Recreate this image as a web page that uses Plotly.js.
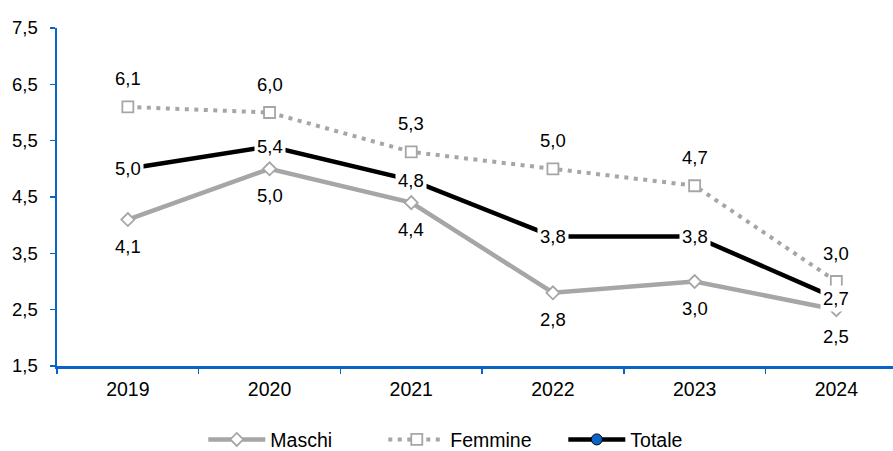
<!DOCTYPE html>
<html><head><meta charset="utf-8">
<script src="https://cdn.plot.ly/plotly-3.0.1.min.js"></script>
<style>body{margin:0;background:#fff}#c{width:893px;height:451px}</style>
</head><body><div id="c"></div>
<script>
const years = ['2019','2020','2021','2022','2023','2024'];
const maschi = [4.1, 5.0, 4.4, 2.8, 3.0, 2.5];
const femmine = [6.1, 6.0, 5.3, 5.0, 4.7, 3.0];
const totale = [5.0, 5.4, 4.8, 3.8, 3.8, 2.7];
const yTicks = [1.5, 2.5, 3.5, 4.5, 5.5, 6.5, 7.5];

const fmt = v => v.toFixed(1).replace('.', ',');
const FAM = 'Liberation Sans, Arial, sans-serif';
const F = (s) => ({family: FAM, size: s || 15, color: '#000000'});

const traces = [
  {x: years, y: maschi, name: 'Maschi', type: 'scatter', mode: 'lines+markers',
   line: {color: '#A6A6A6', width: 4.5},
   marker: {symbol: 'diamond', size: 10, color: '#ffffff', line: {color: '#A6A6A6', width: 1.8}}},
  {x: years, y: femmine, name: 'Femmine', type: 'scatter', mode: 'lines+markers',
   line: {color: '#A6A6A6', width: 4, dash: '4px,5.5px'},
   marker: {symbol: 'square', size: 11, color: '#ffffff', line: {color: '#A6A6A6', width: 1.8}}},
  {x: years, y: totale, name: 'Totale', type: 'scatter', mode: 'lines+markers',
   line: {color: '#000000', width: 4.5},
   marker: {symbol: 'circle', size: 11, color: '#0A64C8', line: {color: '#000000', width: 1}}}
];

const ann = [];
for (let i = 0; i < years.length; i++) {
  ann.push({xref: 'x', yref: 'y', x: i, y: maschi[i], text: fmt(maschi[i]), showarrow: false, yshift: -27, font: F(18.5)});
  ann.push({xref: 'x', yref: 'y', x: i, y: femmine[i], text: fmt(femmine[i]), showarrow: false, yshift: 28, font: F(18.5)});
  ann.push({xref: 'x', yref: 'y', x: i, y: totale[i], text: fmt(totale[i]), showarrow: false, font: F(18.5),
            bgcolor: '#ffffff', borderpad: 2});
}

const layout = {
  width: 893, height: 451,
  margin: {l: 57, r: 0, t: 28, b: 85, autoexpand: false},
  paper_bgcolor: '#ffffff', plot_bgcolor: '#ffffff',
  font: F(18.5),
  showlegend: true,
  legend: {orientation: 'h', xref: 'container', x: 0.53, xanchor: 'center', yref: 'container', y: 0.025, yanchor: 'middle',
           font: F(19.5), itemwidth: 57, entrywidth: 108},
  xaxis: {type: 'category', range: [-0.5, 5.4], showgrid: false, zeroline: false,
          showline: true, linecolor: '#0A64C8', linewidth: 2.5,
          ticks: 'outside', tickson: 'boundaries', ticklen: 5, tickcolor: '#0A64C8', tickwidth: 1.5,
          ticklabelstandoff: 4, tickfont: F(19.5)},
  yaxis: {range: [1.5, 7.5], tickmode: 'array', tickvals: yTicks, ticktext: yTicks.map(fmt),
          showgrid: false, zeroline: false,
          showline: true, linecolor: '#0A64C8', linewidth: 2.5,
          ticks: 'outside', ticklen: 5, tickcolor: '#0A64C8', tickwidth: 1.5,
          ticklabelstandoff: 8, tickfont: F(18.5)},
  annotations: ann
};
Plotly.newPlot('c', traces, layout, {displayModeBar: false, staticPlot: true});
</script></body></html>
